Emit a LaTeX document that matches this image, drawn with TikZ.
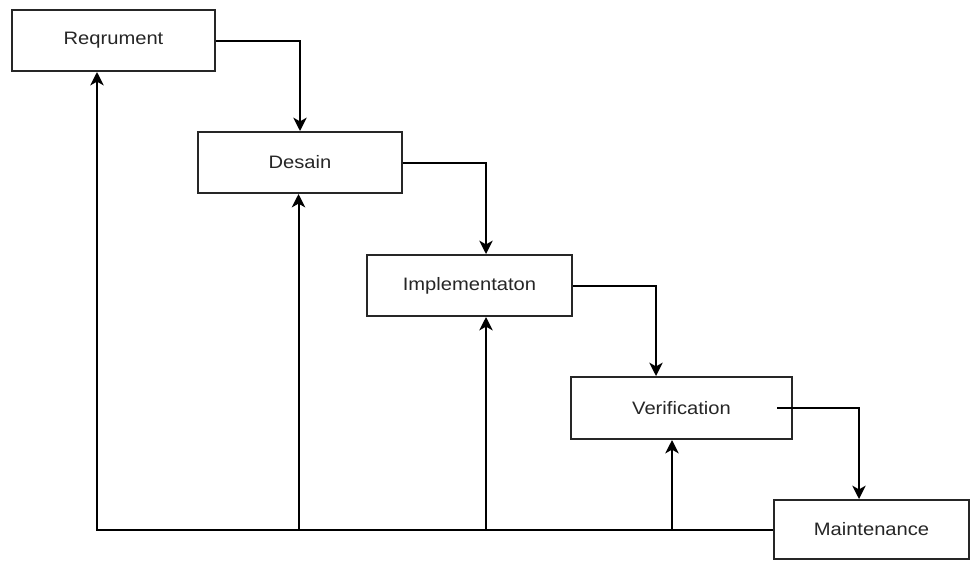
\documentclass[tikz,border=0pt]{standalone}
\usepackage{fontspec}
\setmainfont{Liberation Sans}
\newfontfamily\lblfont[FakeStretch=1.12]{Liberation Sans}
\usetikzlibrary{arrows.meta,calc}
\begin{document}
\begin{tikzpicture}[x=0.75pt,y=-0.75pt,
  stagebox/.style={draw=black!85,line width=1.5pt,fill=white,inner sep=0pt,
    text=black!85,font=\lblfont\fontsize{13.5}{16}\selectfont},
  arr/.style={draw=black,line width=1.5pt,-{Stealth[length=10pt,width=10pt,inset=2.8pt]}}]
\useasboundingbox (0,0) rectangle (971,561);
\node[stagebox,minimum width=152.25pt,minimum height=45.75pt] (R) at (113.5,40.5) {Reqrument};
\node[stagebox,minimum width=153pt,minimum height=45.75pt] (D) at (300,162.5) {Desain};
\node[stagebox,minimum width=153.75pt,minimum height=45.75pt] (I) at (469.5,285.5) {Implementaton};
\node[stagebox,minimum width=165.75pt,minimum height=46.5pt] (V) at (681.5,408) {Verification};
\node[stagebox,minimum width=146.25pt,minimum height=44.25pt] (M) at (871.5,529.5) {Maintenance};
% forward flow
\draw[arr] (R.east) -| (D.north);
\draw[arr] (D.east) -| ($(I.north)+(16.5,0)$);
\draw[arr] (I.east) -| ($(V.north)+(-25.5,0)$);
\coordinate (vs) at ($(V.east)+(-16,0)$);
\draw[arr] (vs) -| ($(M.north)+(-12.5,0)$);
% feedback
\draw[arr] (M.west) -| ($(R.south)+(-16.5,0)$);
\coordinate (f1) at (298.5,529.5);
\coordinate (f2) at (486,529.5);
\coordinate (f3) at (672,529.5);
\draw[arr] (f1) -- (f1 |- D.south);
\draw[arr] (f2) -- (f2 |- I.south);
\draw[arr] (f3) -- (f3 |- V.south);
\end{tikzpicture}
\end{document}
